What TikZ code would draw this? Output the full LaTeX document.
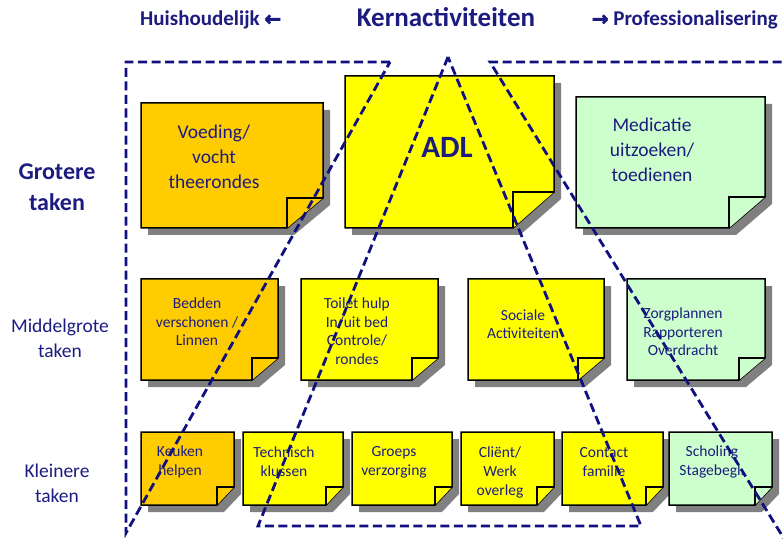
\documentclass[tikz,border=0pt]{standalone}
\usepackage{fontspec}
\setmainfont{Carlito}
\newfontfamily\arrowfont{DejaVu Sans}[FakeBold=3]
\definecolor{navytext}{RGB}{28,28,128}
\definecolor{navyline}{RGB}{16,16,128}
\definecolor{noteorange}{RGB}{255,204,0}
\definecolor{noteyellow}{RGB}{255,255,0}
\definecolor{notegreen}{RGB}{204,255,204}
\definecolor{shadowgray}{RGB}{128,128,128}
\tikzset{
  noteborder/.style={draw=black,line width=1.5bp,line join=miter},
  notetext/.style={text=navytext,align=center,inner sep=0pt},
  bigtext/.style={notetext,font=\fontsize{19.5bp}{25bp}\selectfont},
  midtext/.style={notetext,font=\fontsize{15.5bp}{18.5bp}\selectfont},
  smalltext/.style={notetext,font=\fontsize{15.5bp}{19bp}\selectfont},
  rowlabel/.style={notetext,font=\fontsize{19.5bp}{25bp}\selectfont},
  headtext/.style={text=navytext,inner sep=0pt,font=\bfseries\fontsize{21bp}{24bp}\selectfont},
  dashline/.style={draw=navyline,line width=2.8bp,dash pattern=on 9bp off 4.5bp,line join=miter}
}
% #1 l, #2 t, #3 r, #4 b, #5 fold w, #6 fold h, #7 colour
\newcommand\stickynote[7]{%
  \fill[shadowgray,shift={(7,7)}] (#1,#2) -- (#3,#2) -- (#3,#4-#6) -- (#3-#5,#4) -- (#1,#4) -- cycle;
  \draw[noteborder,fill=#7] (#1,#2) -- (#3,#2) -- (#3,#4-#6) -- (#3-#5,#4) -- (#1,#4) -- cycle;
  \draw[noteborder,fill=#7] (#3-#5,#4) -- (#3-#5,#4-#6) -- (#3,#4-#6);
}
\newcommand\headarrow[1]{{\arrowfont\fontsize{20bp}{22bp}\selectfont #1}}
\begin{document}
\begin{tikzpicture}[x=1bp,y=-1bp]
\useasboundingbox (0,0) rectangle (783,539);
\fill[white] (0,0) rectangle (783,539);

% row 1
\stickynote{141}{103}{323}{228}{36}{30}{noteorange}
\stickynote{345}{76}{554}{228}{41}{36}{noteyellow}
\stickynote{576}{97}{765}{228}{36}{31}{notegreen}
% row 2
\stickynote{141}{279}{278}{380}{26}{22}{noteorange}
\stickynote{301}{279}{438}{380}{26}{22}{noteyellow}
\stickynote{468}{279}{604}{380}{26}{22}{noteyellow}
\stickynote{627}{279}{765}{380}{26}{22}{notegreen}
% row 3
\stickynote{141}{432}{234}{505}{17}{18}{noteorange}
\stickynote{243}{432}{343}{505}{17}{18}{noteyellow}
\stickynote{352}{432}{452}{505}{17}{18}{noteyellow}
\stickynote{461}{432}{554}{505}{17}{18}{noteyellow}
\stickynote{562}{432}{663}{505}{17}{18}{noteyellow}
\stickynote{669}{432}{772}{505}{17}{18}{notegreen}

% note texts
\node[bigtext] (voeding) at (214,157) {Voeding/\\vocht\\theerondes};
\node[notetext,font=\bfseries\fontsize{31bp}{34bp}\selectfont] (adl) at (447,147) {ADL};
\node[bigtext] (medicatie) at (652,150) {Medicatie\\uitzoeken/\\toedienen};
\node[midtext] (bedden) at (197,322) {Bedden\\verschonen /\\Linnen};
\node[midtext] (toilet) at (357,331) {Toilet hulp\\In/uit bed\\Controle/\\rondes};
\node[midtext] (sociale) at (523,324) {Sociale\\Activiteiten};
\node[midtext] (zorg) at (683,332) {Zorgplannen\\Rapporteren\\Overdracht};
\node[smalltext] (keuken) at (180,462) {Keuken\\helpen};
\node[smalltext] (technisch) at (284,462) {Technisch\\klussen};
\node[smalltext] (groeps) at (394,462) {Groeps\\verzorging};
\node[smalltext] (client) at (500,472) {Cliënt/\\Werk\\overleg};
\node[smalltext] (contact) at (604,462) {Contact\\familie};
\node[smalltext] (scholing) at (712,462) {Scholing\\Stagebegl.};

% row labels
\node[notetext,font=\bfseries\fontsize{24bp}{31bp}\selectfont] (grotere) at (57,187) {Grotere\\taken};
\node[rowlabel] (middel) at (60,338) {Middelgrote\\taken};
\node[rowlabel] (kleinere) at (57,483) {Kleinere\\taken};

% headers
\node[headtext,anchor=west] (huis) at (140,20) {Huishoudelijk \headarrow{←}};
\node[headtext,font=\bfseries\fontsize{27bp}{30bp}\selectfont] (kern) at (446,17) {Kernactiviteiten};
\node[headtext,anchor=east] (prof) at (778,20) {\headarrow{→} Professionalisering};

% dashed regions
\coordinate (lA) at (390,62);
\coordinate (lB) at (126,62);
\coordinate (lC) at (126,533);
\draw[dashline] (lA) -- (lB) -- (lC) -- cycle;
\coordinate (cA) at (448,57);
\coordinate (cB) at (258,526);
\coordinate (cC) at (641,526);
\draw[dashline] (cA) -- (cB) -- (cC) -- cycle;
\coordinate (rA) at (795,62);
\coordinate (rB) at (490,62);
\coordinate (rC) at (791,550);
\draw[dashline] (rA) -- (rB) -- (rC);
\end{tikzpicture}
\end{document}
